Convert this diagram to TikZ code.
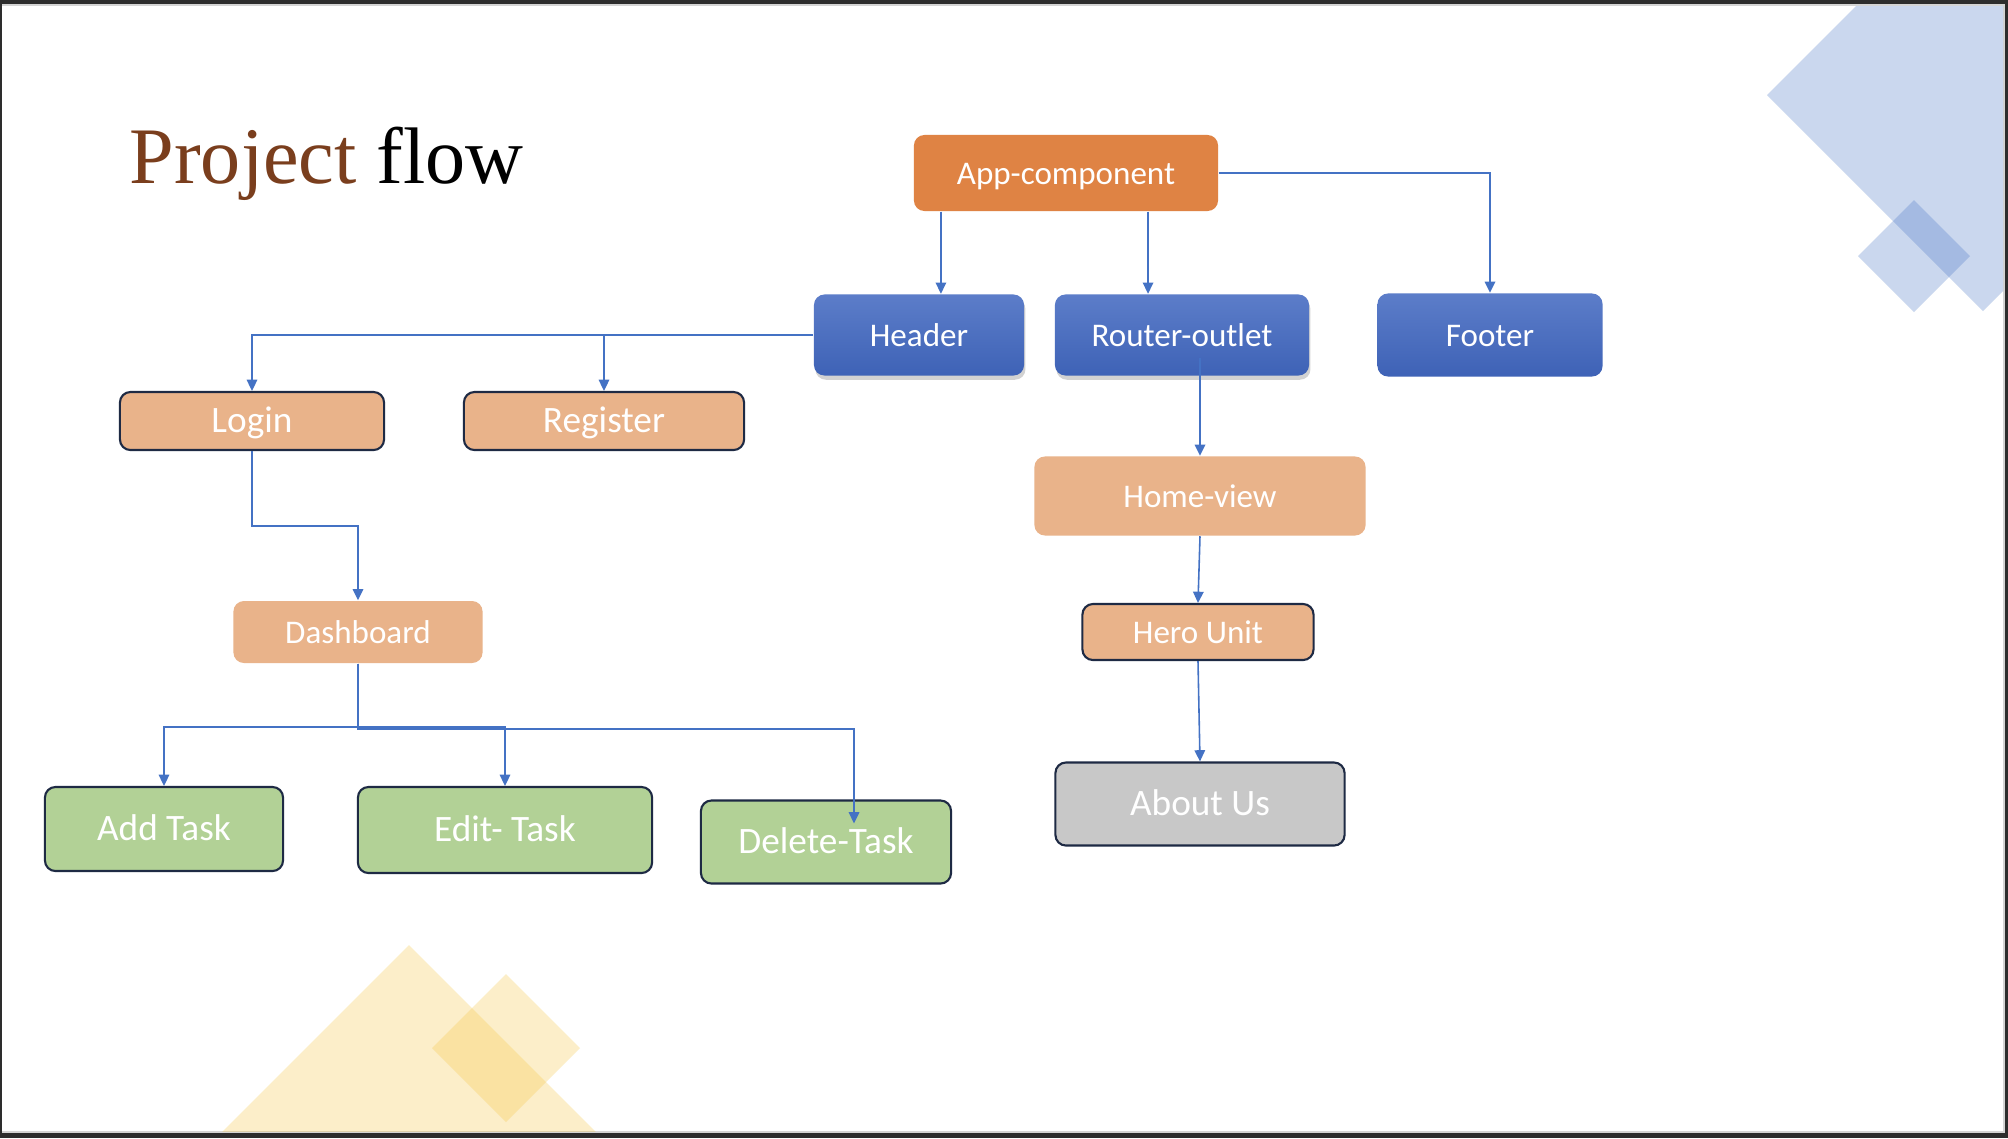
\documentclass[tikz,border=0pt]{standalone}
\usepackage{fontspec}
\setmainfont{Carlito}
\newfontfamily\titlefont{Liberation Serif}
\usetikzlibrary{arrows.meta,shadows}

\definecolor{slideframe}{RGB}{45,45,45}
\definecolor{slideedge}{RGB}{212,212,212}
\definecolor{titlebrown}{RGB}{122,62,29}
\definecolor{apporange}{RGB}{223,131,68}
\definecolor{bluetop}{RGB}{92,125,201}
\definecolor{bluebottom}{RGB}{62,98,182}
\definecolor{peach}{RGB}{233,179,138}
\definecolor{leafgreen}{RGB}{178,209,150}
\definecolor{aboutgray}{RGB}{200,200,200}
\definecolor{boxnavy}{RGB}{30,42,68}
\definecolor{linkblue}{RGB}{68,114,196}
\definecolor{decogold}{RGB}{245,197,64}

\tikzset{
  box/.style={rectangle, rounded corners=3pt, text=white, inner sep=0pt,
    text height=0.644em, text depth=0pt, align=center},
  boxsmall/.style={box, font=\fontsize{9.4}{11}\selectfont},
  boxlarge/.style={box, font=\fontsize{10.6}{12}\selectfont},
  edged/.style={draw=boxnavy, line width=0.6pt},
  bluebox/.style={boxsmall, top color=bluetop, bottom color=bluebottom},
  shadowed/.style={drop shadow={opacity=0.35, shadow xshift=0.4pt, shadow yshift=-1.2pt}},
  peachbox/.style={fill=peach},
  greenbox/.style={boxlarge, edged, fill=leafgreen},
  flow/.style={draw=linkblue, line width=0.45pt, -{Triangle[width=3pt,length=3.2pt]}},
  decoblue/.style={fill=linkblue, fill opacity=0.28},
  decogold/.style={fill=decogold, fill opacity=0.28}
}

\begin{document}
\begin{tikzpicture}[x=0.01cm, y=-0.01cm]
            \useasboundingbox (0,0) rectangle (2008,1138);

            % Drawing slide frame
            \fill [slideframe] (0,0) rectangle (2008,1138);
            \fill [slideedge] (2,4) rectangle (2005,1133);
            \fill [white] (2,6) rectangle (2003,1131);

            % Drawing decoration squares
            \begin{scope}
              \clip (2,6) rectangle (2003,1131);
              \fill [decoblue] (1983,-121) -- (2199,95) -- (1983,311) -- (1767,95) -- cycle;
              \fill [decoblue] (1914,200) -- (1970,256) -- (1914,312) -- (1858,256) -- cycle;
              \fill [decogold] (409,945) -- (609,1145) -- (409,1345) -- (209,1145) -- cycle;
              \fill [decogold] (506,974) -- (580,1048) -- (506,1122) -- (432,1048) -- cycle;
            \end{scope}

            % Writing title
            \node [anchor=base west, inner sep=0pt, font=\titlefont\fontsize{22.8}{27}\selectfont] (title) at (129,183) {\textcolor{titlebrown}{Project} flow};

            % Drawing top boxes
            \node [boxsmall, fill=apporange, minimum width=3.04cm, minimum height=0.76cm] (app) at (1066,173) {App-component};
            \node [bluebox, shadowed, minimum width=2.10cm, minimum height=0.81cm] (header) at (919,335) {Header};
            \node [bluebox, shadowed, minimum width=2.54cm, minimum height=0.81cm] (router) at (1182,335) {Router-outlet};
            \node [bluebox, minimum width=2.25cm, minimum height=0.83cm] (footer) at (1490,335) {Footer};

            % Drawing header branch
            \node [boxlarge, edged, peachbox, minimum width=2.64cm, minimum height=0.58cm] (login) at (252,421) {Login};
            \node [boxlarge, edged, peachbox, minimum width=2.80cm, minimum height=0.58cm] (register) at (604,421) {Register};
            \node [boxsmall, peachbox, minimum width=2.49cm, minimum height=0.62cm] (dash) at (358,632) {Dashboard};
            \node [greenbox, minimum width=2.38cm, minimum height=0.84cm] (add) at (164,829) {Add Task};
            \node [greenbox, minimum width=2.94cm, minimum height=0.86cm] (edit) at (505,830) {Edit- Task};
            \node [greenbox, minimum width=2.50cm, minimum height=0.83cm] (delete) at (826,842) {Delete-Task};

            % Drawing router branch
            \node [boxsmall, peachbox, minimum width=3.31cm, minimum height=0.79cm] (home) at (1200,496) {Home-view};
            \node [boxsmall, edged, peachbox, minimum width=2.31cm, minimum height=0.56cm] (hero) at (1198,632) {Hero Unit};
            \node [boxlarge, edged, fill=aboutgray, minimum width=2.89cm, minimum height=0.83cm] (about) at (1200,804) {About Us};

            % Drawing connectors from app
            \coordinate (hdrdrop) at ([xshift=-1.25cm]app.south);
            \coordinate (routdrop) at ([xshift=0.82cm]app.south);
            \draw [flow] (hdrdrop) -- (hdrdrop |- header.north);
            \draw [flow] (routdrop) -- (routdrop |- header.north);
            \draw [flow] (app.east) -| (footer.north);

            % Drawing connectors from header
            \draw [flow] (header.west) -| (login.north);
            \draw [flow] (register.north |- header.west) -- (register.north);
            \draw [flow] (login.south) -- ++(0,75) -| (dash.north);

            % Drawing connectors from dashboard
            \coordinate (deltap) at ([xshift=0.28cm,yshift=-0.24cm]delete.north);
            \draw [flow] (dash.south) -- ++(0,63) -| (add.north);
            \draw [flow] (dash.south) -- ++(0,63) -| (edit.north);
            \draw [flow] (dash.south) -- ++(0,65) -| (deltap);

            % Drawing connectors from router
            \coordinate (routtap) at ([yshift=-0.23cm]router.center);
            \draw [flow] (routtap -| home.north) -- (home.north);
            \draw [flow] (home.south) -- (hero.north);
            \draw [flow] (hero.south) -- (about.north);
        \end{tikzpicture}
\end{document}
